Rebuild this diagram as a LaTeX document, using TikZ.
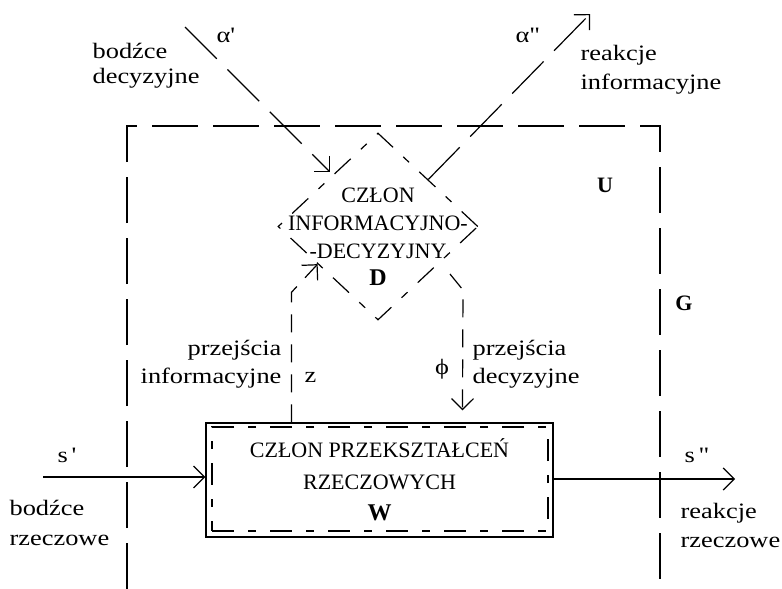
\documentclass[tikz,border=0pt]{standalone}
\usepackage{fontspec}
\setmainfont{Liberation Serif}
\newfontfamily\labfont[FakeStretch=1.2]{Liberation Serif}
\usetikzlibrary{arrows.meta,shapes.geometric,calc}

\begin{document}
\begin{tikzpicture}[x=1pt,y=-1pt,line width=1.2pt,
  lbl/.style={font=\labfont\fontsize{22}{27}\selectfont,inner sep=0pt},
  caps/.style={font=\fontsize{22}{27.7}\selectfont,inner sep=0pt,align=center},
  big/.style={font=\fontsize{22}{25}\selectfont\bfseries,inner sep=0pt},
  frame/.style={dash pattern=on 46pt off 15pt},
  flow/.style={dash pattern=on 45pt off 15pt},
  link/.style={dash pattern=on 18pt off 12pt},
  member/.style={dash pattern=on 22pt off 14pt on 8pt off 14pt},
  barb/.style={-{Straight Barb[length=11pt,width=22pt]}}]
  \useasboundingbox (0,0) rectangle (782,589);
  \draw[frame] (127,589) |- (660,126) -- (660,589);
  \node[diamond,draw,member,minimum width=200pt,minimum height=187pt,inner sep=0pt] (D) at (378,226.5) {};
  \node[caps] (dtext) at (378,237) {CZŁON\\INFORMACYJNO-\\-DECYZYJNY\\\fontsize{24}{27.7}\selectfont\textbf{D}};
  \node[draw,caps,font=\fontsize{22}{31.5}\selectfont,minimum width=347pt,minimum height=114pt] (W) at (379.5,480) {CZŁON PRZEKSZTAŁCEŃ\\RZECZOWYCH\\\fontsize{24}{31.5}\selectfont\textbf{W}};
  \node[draw,member,minimum width=336pt,minimum height=104pt] (Win) at (380,479) {};
  \coordinate (bdin) at (185,27);
  \coordinate (bdout) at (330,172);
  \coordinate (riin) at ($(D.north)!0.5!(D.east)$);
  \coordinate (riout) at (590,14);
  \coordinate (zin) at ($(W.north west)+(86,0)$);
  \coordinate (zout) at ($(D.west)!0.4!(D.south)$);
  \coordinate (phin) at (450,274);
  \coordinate (phout) at ($(W.north west)+(257,0)$);
  \coordinate (sin) at (43,477);
  \coordinate (sout) at (735,479);
  \draw[flow,barb] (bdin) -- (bdout);
  \draw[flow,barb] (riin) -- (riout);
  \draw[link,barb] (zin) -- ++(0,-130) -- (zout);
  \draw[link,barb,shorten >=12pt] (phin) -- ++(13,16) -- (phout);
  \draw[barb] (sin) -- (sin -| W.west);
  \draw[barb] (W.east |- sout) -- (sout);
  \node[lbl,align=left,anchor=base west] (bdlab) at (92,83) {bodźce\\[-2pt]decyzyjne};
  \node[lbl,anchor=base west] (a1) at (216,42) {α\textquotesingle};
  \node[lbl,anchor=base west] (a2) at (515,42) {α\textquotedbl};
  \node[lbl,align=left,anchor=base west] (rilab) at (580,89) {reakcje\\[2pt]informacyjne};
  \node[big] (U) at (605,185) {U};
  \node[big] (G) at (684,303) {G};
  \node[lbl,align=right,anchor=base east] (pilab) at (282,383) {przejścia\\[1pt]informacyjne};
  \node[lbl] (z) at (310.5,377) {z};
  \node[lbl] (phi) at (442,369) {ϕ};
  \node[lbl,align=left,anchor=base west] (pdlab) at (472,383) {przejścia\\[1pt]decyzyjne};
  \node[lbl,anchor=base west] (s1) at (57,462) {s\,\textquotesingle};
  \node[lbl,align=left,anchor=base west] (brlab) at (9,545) {bodźce\\[3pt]rzeczowe};
  \node[lbl,anchor=base west] (s2) at (684,462) {s\,\textquotedbl};
  \node[lbl,align=left,anchor=base west] (rrlab) at (680,547) {reakcje\\[2pt]rzeczowe};
\end{tikzpicture}
\end{document}
